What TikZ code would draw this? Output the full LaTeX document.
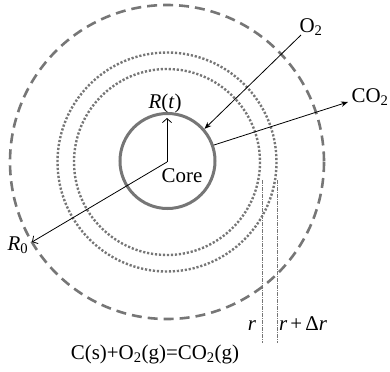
\documentclass[tikz,border=0pt]{standalone}
\usepackage{fontspec}
\setmainfont{Liberation Serif}
\usetikzlibrary{arrows.meta}
\definecolor{ringgray}{RGB}{118,118,118}
\begin{document}
\begin{tikzpicture}[x=1bp,y=-1bp,
  lbl/.style={inner sep=0pt,anchor=base,font=\fontsize{21}{25}\selectfont},
  dashring/.style={draw=ringgray,line width=2.6bp,dash pattern=on 10bp off 6bp},
  dotring/.style={draw=ringgray,line width=2.4bp,dash pattern=on 2.2bp off 1.8bp},
  coreball/.style={circle,draw=ringgray,line width=3bp,minimum size=95bp,inner sep=0pt},
  guide/.style={draw=ringgray,line width=0.5bp,dash pattern=on 4bp off 1bp on 1bp off 1bp},
  fillarr/.style={line width=0.8bp,-{Stealth[length=7bp,width=5.5bp]}},
  openarr/.style={line width=0.8bp,-{Straight Barb[length=4bp,width=9bp]}}]
\useasboundingbox (0,0) rectangle (390,372);
% rings
\coordinate (c) at (167,162);
\draw[dashring] (c) circle[radius=157];
\draw[dotring] (c) circle[radius=109.5];
\draw[dotring] (c) circle[radius=93];
\node[coreball] (core) at (167.5,161) {};
% guide lines
\coordinate (ga) at (262,180);
\coordinate (gb) at (262,343);
\coordinate (gc) at (277,180);
\coordinate (gd) at (277,343);
\draw[guide] (ga) -- (gb);
\draw[guide] (gc) -- (gd);
% labels
\node[lbl] (corelbl) at (182,182) {Core};
\node[lbl] (rt) at (165,108) {\textit{R}(\textit{t})};
\node[lbl] (r0) at (18,250) {\textit{R}\textsubscript{0}};
\node[lbl] (o2) at (311,32) {O\textsubscript{2}};
\node[lbl] (co2) at (370,102) {CO\textsubscript{2}};
\node[lbl] (rl) at (252,330) {\textit{r}};
\node[lbl] (rdr) at (303,330) {\textit{r}\hspace{0.15em}+\hspace{0.15em}Δ\textit{r}};
\node[lbl] (eq) at (155,359) {C(s)+O\textsubscript{2}(g)=CO\textsubscript{2}(g)};
% arrows
\coordinate (o2s) at (301,35);
\coordinate (co2t) at (348,102);
\coordinate (rttip) at (167,118);
\coordinate (r0tip) at (32,242);
\draw[fillarr] (o2s) -- (core.41);
\draw[fillarr] (core.19) -- (co2t);
\draw[openarr] (c) -- (rttip);
\draw[openarr] (c) -- (r0tip);
\end{tikzpicture}
\end{document}
